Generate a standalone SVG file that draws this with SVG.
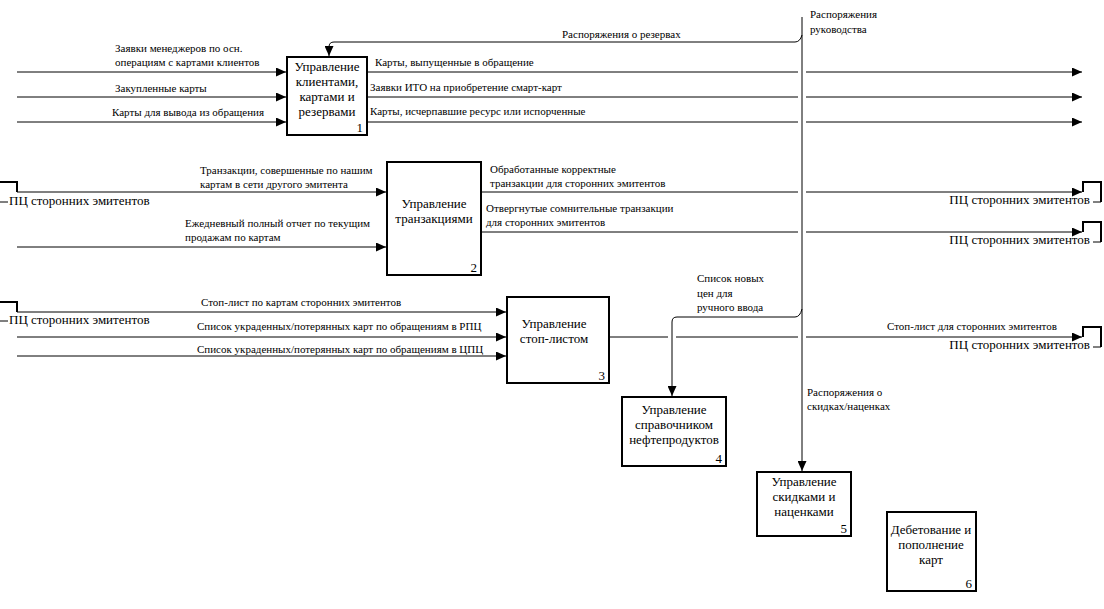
<svg xmlns="http://www.w3.org/2000/svg" width="1104" height="609" viewBox="0 0 1104 609">
<style>
.box{fill:#fff;stroke:#000;stroke-width:2}
.ln{fill:none;stroke:#000;stroke-width:1}
.thk{fill:none;stroke:#000;stroke-width:2}
text{font-family:"Liberation Serif","Times New Roman",serif;fill:#000}
.lbl{font-size:11px}
.pc{font-size:13px}
.bt{font-size:13px;text-anchor:middle}
.num{font-size:13px;text-anchor:end}
</style>
<defs>
<marker id="ah" markerUnits="userSpaceOnUse" markerWidth="11" markerHeight="9" refX="10" refY="4.5" orient="auto">
<path d="M0,0 L10,4.5 L0,9 Z" fill="#000"/>
</marker>
</defs>
<rect width="1104" height="609" fill="#fff"/>
<g id="connectors">
<!-- box 1 inputs -->
<path class="ln" d="M17,72 H286" marker-end="url(#ah)"/>
<path class="ln" d="M17,97 H286" marker-end="url(#ah)"/>
<path class="ln" d="M17,122 H286" marker-end="url(#ah)"/>
<text class="lbl" x="115" y="52">Заявки менеджеров по осн.</text>
<text class="lbl" x="115" y="66">операциям с картами клиентов</text>
<text class="lbl" x="115" y="92">Закупленные карты</text>
<text class="lbl" x="112" y="116">Карты для вывода из обращения</text>
<!-- box 1 outputs -->
<path class="ln" d="M367,72 H798 M806,72 H1082" marker-end="url(#ah)"/>
<path class="ln" d="M367,97 H798 M806,97 H1082" marker-end="url(#ah)"/>
<path class="ln" d="M367,122 H798 M806,122 H1082" marker-end="url(#ah)"/>
<text class="lbl" x="375" y="66">Карты, выпущенные в обращение</text>
<text class="lbl" x="370" y="91">Заявки ИТО на приобретение смарт-карт</text>
<text class="lbl" x="370" y="115">Карты, исчерпавшие ресурс или испорченные</text>
<!-- management control -->
<path class="ln" d="M802,17 V471" marker-end="url(#ah)"/>
<text class="lbl" x="810" y="18">Распоряжения</text>
<text class="lbl" x="810" y="33">руководства</text>
<path class="ln" d="M802,35 Q800,42 795,42 H334 Q329,42 329,47 V56" marker-end="url(#ah)"/>
<text class="lbl" x="562" y="38">Распоряжения о резервах</text>
<text class="lbl" x="807" y="396">Распоряжения о</text>
<text class="lbl" x="807" y="410">скидках/наценках</text>
<!-- box 2 inputs -->
<path class="thk" d="M0,182 H17 V192"/>
<path class="ln" d="M0,202 H8"/>
<text class="pc" x="9" y="205">ПЦ сторонних эмитентов</text>
<path class="ln" d="M17,192 H386" marker-end="url(#ah)"/>
<path class="ln" d="M17,247 H386" marker-end="url(#ah)"/>
<text class="lbl" x="200" y="174">Транзакции, совершенные по нашим</text>
<text class="lbl" x="200" y="188">картам в сети другого эмитента</text>
<text class="lbl" x="185" y="227">Ежедневный полный отчет по текущим</text>
<text class="lbl" x="185" y="241">продажам по картам</text>
<!-- box 2 outputs -->
<path class="ln" d="M481,192 H798 M806,192 H1082" marker-end="url(#ah)"/>
<path class="ln" d="M481,232 H798 M806,232 H1082" marker-end="url(#ah)"/>
<text class="lbl" x="490" y="173">Обработанные корректные</text>
<text class="lbl" x="490" y="187">транзакции для сторонних эмитентов</text>
<text class="lbl" x="486" y="212">Отвергнутые сомнительные транзакции</text>
<text class="lbl" x="486" y="226">для сторонних эмитентов</text>
<path class="thk" d="M1083,192 V182 H1101 V202"/>
<path class="ln" d="M1093,202 H1101"/>
<text class="pc" x="1090" y="204" text-anchor="end">ПЦ сторонних эмитентов</text>
<path class="thk" d="M1083,232 V222 H1101 V242"/>
<path class="ln" d="M1093,242 H1101"/>
<text class="pc" x="1090" y="244" text-anchor="end">ПЦ сторонних эмитентов</text>
<!-- box 3 inputs -->
<path class="thk" d="M0,302 H17 V312"/>
<path class="ln" d="M0,321 H8"/>
<text class="pc" x="9" y="324">ПЦ сторонних эмитентов</text>
<path class="ln" d="M17,312 H506" marker-end="url(#ah)"/>
<path class="ln" d="M17,337 H506" marker-end="url(#ah)"/>
<path class="ln" d="M17,356 H506" marker-end="url(#ah)"/>
<text class="lbl" x="201" y="306">Стоп-лист по картам сторонних эмитентов</text>
<text class="lbl" x="197" y="330">Список украденных/потерянных карт по обращениям в РПЦ</text>
<text class="lbl" x="197" y="353">Список украденных/потерянных карт по обращениям в ЦПЦ</text>
<!-- box 3 output -->
<path class="ln" d="M609,337 H668 M676,337 H798 M806,337 H1082" marker-end="url(#ah)"/>
<text class="lbl" x="887" y="330">Стоп-лист для сторонних эмитентов</text>
<path class="thk" d="M1083,337 V327 H1101 V347"/>
<path class="ln" d="M1093,347 H1101"/>
<text class="pc" x="1090" y="349" text-anchor="end">ПЦ сторонних эмитентов</text>
<!-- price list control -->
<path class="ln" d="M802,309 Q800,317 795,317 H677 Q672,317 672,322 V396" marker-end="url(#ah)"/>
<text class="lbl" x="697" y="282">Список новых</text>
<text class="lbl" x="697" y="297">цен для</text>
<text class="lbl" x="697" y="311">ручного ввода</text>
</g>
<g id="node1">
<rect class="box" x="287" y="57" width="80" height="78"/>
<text class="bt" x="327" y="71">Управление</text>
<text class="bt" x="327" y="86">клиентами,</text>
<text class="bt" x="327" y="101">картами и</text>
<text class="bt" x="327" y="116">резервами</text>
<text class="num" x="363" y="132">1</text>
</g>
<g id="node2">
<rect class="box" x="387" y="162" width="94" height="113"/>
<text class="bt" x="434" y="208">Управление</text>
<text class="bt" x="434" y="223">транзакциями</text>
<text class="num" x="477" y="272">2</text>
</g>
<g id="node3">
<rect class="box" x="507" y="297" width="102" height="86"/>
<text class="bt" x="554" y="328">Управление</text>
<text class="bt" x="554" y="343">стоп-листом</text>
<text class="num" x="605" y="380">3</text>
</g>
<g id="node4">
<rect class="box" x="622" y="397" width="104" height="69"/>
<text class="bt" x="674" y="414">Управление</text>
<text class="bt" x="674" y="429">справочником</text>
<text class="bt" x="674" y="444">нефтепродуктов</text>
<text class="num" x="722" y="463">4</text>
</g>
<g id="node5">
<rect class="box" x="757" y="472" width="94" height="64"/>
<text class="bt" x="804" y="486">Управление</text>
<text class="bt" x="804" y="501">скидками и</text>
<text class="bt" x="804" y="516">наценками</text>
<text class="num" x="847" y="533">5</text>
</g>
<g id="node6">
<rect class="box" x="887" y="512" width="89" height="79"/>
<text class="bt" x="931" y="534">Дебетование и</text>
<text class="bt" x="931" y="549">пополнение</text>
<text class="bt" x="931" y="564">карт</text>
<text class="num" x="972" y="588">6</text>
</g>
</svg>
